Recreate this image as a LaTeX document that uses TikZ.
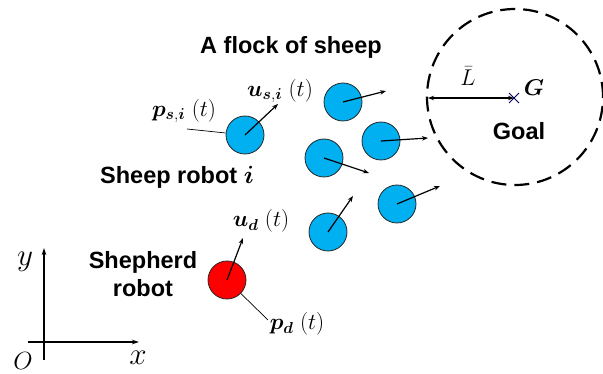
\documentclass[tikz,border=0pt]{standalone}
\usepackage{graphicx}
\usepackage{amsmath,bm}
\usepackage{fontspec}
\setmainfont{Liberation Sans}
\usetikzlibrary{arrows.meta}
\definecolor{sheepblue}{HTML}{00B0F0}
\newcommand{\mlb}[1]{\scalebox{1.1}{$#1$}}
\tikzset{
  sheep/.style={circle,draw=black!85,line width=0.8pt,fill=sheepblue,minimum size=38pt,inner sep=0pt},
  shepherd/.style={circle,draw=black!85,line width=0.8pt,fill=red,minimum size=38pt,inner sep=0pt},
  vel/.style={-{Stealth[length=6pt,width=4.5pt]},line width=1.2pt},
  lead/.style={line width=0.7pt},
  title/.style={font=\bfseries\fontsize{23.5}{28}\selectfont,inner sep=0pt},
  mlab/.style={font=\fontsize{20.74}{24}\selectfont,inner sep=0pt},
  axlab/.style={font=\fontsize{24.88}{28}\selectfont,inner sep=0pt},
  axis/.style={-{Stealth[length=7pt,width=4.5pt]},line width=1.1pt},
}
\begin{document}
\begin{tikzpicture}[x=1pt,y=-1pt]
\useasboundingbox (0,0) rectangle (603,374);
% goal region
\coordinate (goalc) at (515,97);
\draw[line width=2.2pt,dash pattern=on 15pt off 8pt] (goalc) circle[radius=88pt];
\coordinate (G) at (514,98);
\draw[line width=0.9pt,draw=black!60!blue] (G) ++(-5,-5) -- ++(10,10) (G) ++(-5,5) -- ++(10,-10);
\coordinate (gl) at (428,98);
\draw[{Stealth[length=6pt,width=4.5pt]}-{Stealth[length=6pt,width=4.5pt]},line width=1.1pt] (gl) -- (G);
\node[mlab] (Lbar) at (468,76) {\mlb{\bar{L}}};
\node[mlab] (Glab) at (534,88) {\mlb{\bm{G}}};
\node[title] (goaltxt) at (519,131) {Goal};
% sheep
\node[sheep] (si) at (245,135) {};
\node[sheep] (sa) at (343,102) {};
\node[sheep] (sb) at (381,141) {};
\node[sheep] (sc) at (324,158) {};
\node[sheep] (sd) at (397,204) {};
\node[sheep] (se) at (328,232) {};
\coordinate (ui) at (278,104);
\coordinate (ua) at (386,91);
\coordinate (ub) at (428,138);
\coordinate (uc) at (369,173);
\coordinate (ud) at (440,186);
\coordinate (ue) at (353,196);
\draw[vel] (si.center) -- (ui);
\draw[vel] (sa.center) -- (ua);
\draw[vel] (sb.center) -- (ub);
\draw[vel] (sc.center) -- (uc);
\draw[vel] (sd.center) -- (ud);
\draw[vel] (se.center) -- (ue);
% shepherd
\node[shepherd] (sh) at (227,280) {};
\coordinate (ush) at (243,238);
\draw[vel] (sh.center) -- (ush);
% leaders
\coordinate (psiend) at (187,129);
\draw[lead] (psiend) -- (si);
\coordinate (pdend) at (268,320);
\draw[lead] (sh) -- (pdend);
% math labels
\node[mlab] (usi) at (280,91) {\mlb{\bm{u}_{\bm{s},\bm{i}}\;(t)}};
\node[mlab] (psi) at (184,111) {\mlb{\bm{p}_{\bm{s},\bm{i}}\;(t)}};
\node[mlab] (udl) at (261,221) {\mlb{\bm{u}_{\bm{d}}\;(t)}};
\node[mlab] (pdl) at (297,324) {\mlb{\bm{p}_{\bm{d}}\;(t)}};
% text
\node[title] (flock) at (291,47) {A flock of sheep};
\node[title] (sheepi) at (177,177) {Sheep robot $\bm{i}$};
\node[title,align=center] (shtxt) at (143,274) {Shepherd\\robot};
% axes
\coordinate (xs) at (28,342);
\coordinate (xe) at (139,342);
\coordinate (ys) at (44,360);
\coordinate (ye) at (44,248);
\draw[axis] (xs) -- (xe);
\draw[axis] (ys) -- (ye);
\node[axlab] (ylab) at (25,262) {\scalebox{1.25}{$y$}};
\node[axlab] (olab) at (23,361) {$O$};
\node[axlab] (xlab) at (138,358) {\scalebox{1.25}{$x$}};
\end{tikzpicture}
\end{document}
